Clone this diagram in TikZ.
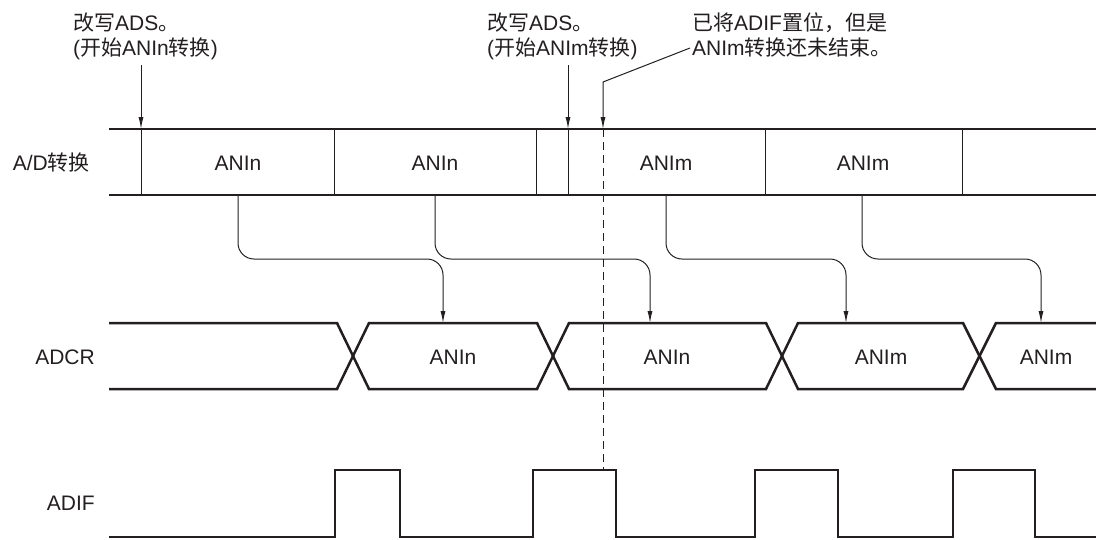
\documentclass[tikz,border=0pt]{standalone}
\usepackage{fontspec}
\setmainfont{Liberation Sans}
\newfontfamily\cjk{Noto Sans CJK SC}
\newcommand\zh[1]{{\cjk #1}}
\usetikzlibrary{arrows.meta}
\definecolor{ink}{HTML}{231F20}
\begin{document}
\begin{tikzpicture}[x=1pt,y=-1pt,
  font=\fontsize{21}{25}\selectfont,
  sig/.style={line width=2.5pt, draw=ink, line join=miter},
  thinln/.style={line width=1pt, draw=ink},
  arr/.style={line width=1pt, draw=ink, -{Latex[length=12pt,width=5pt]}},
  lbl/.style={inner sep=0pt, text=ink},
]
\useasboundingbox (0,0) rectangle (1096,539);

% top annotations
\node[lbl, anchor=north west, align=left] (n1) at (73,13) {\zh{改写}ADS\zh{。}\\(\zh{开始}ANIn\zh{转换})};
\node[lbl, anchor=north west, align=left] (n2) at (487,13) {\zh{改写}ADS\zh{。}\\(\zh{开始}ANIm\zh{转换})};
\node[lbl, anchor=north west, align=left] (n3) at (692,13) {\zh{已将}ADIF\zh{置位，但是}\\ANIm\zh{转换还未结束。}};

% row labels
\node[lbl, anchor=east] (rad) at (90,163) {A/D\zh{转换}};
\node[lbl, anchor=east] (radcr) at (95,357) {ADCR};
\node[lbl, anchor=east] (radif) at (95,503) {ADIF};

% A/D conversion row
\foreach \x in {141,334,536,568,765,962} \draw[thinln] (\x,129) -- (\x,195);
\draw[sig] (109,129) -- (1096,129);
\draw[sig] (109,195) -- (1096,195);
\node[lbl] (c1) at (238,163) {ANIn};
\node[lbl] (c2) at (435,163) {ANIn};
\node[lbl] (c3) at (666,163) {ANIm};
\node[lbl] (c4) at (863,163) {ANIm};

% annotation arrows
\coordinate (a1s) at (141,65); \coordinate (a1e) at (141,129);
\coordinate (a2s) at (568,65); \coordinate (a2e) at (568,129);
\draw[arr] (a1s) -- (a1e);
\draw[arr] (a2s) -- (a2e);
\coordinate (ls) at (690,48); \coordinate (lk) at (603,82); \coordinate (le) at (603,129);
\draw[arr] (ls) -- (lk) -- (le);
\coordinate (de) at (603,470);
\draw[thinln, dash pattern=on 8pt off 5pt] (le) -- (de);

% ADCR bus
\draw[sig] (109,323) -- (337,323) -- (369,389) -- (537,389) -- (569,323) -- (766,323) -- (798,389) -- (963,389) -- (996,323) -- (1096,323);
\draw[sig] (109,389) -- (337,389) -- (369,323) -- (537,323) -- (569,389) -- (766,389) -- (798,323) -- (963,323) -- (996,389) -- (1096,389);
\node[lbl] (d1) at (453,357) {ANIn};
\node[lbl] (d2) at (667,357) {ANIn};
\node[lbl] (d3) at (881,357) {ANIm};
\node[lbl] (d4) at (1046,357) {ANIm};

% transfer arrows
\foreach \s/\t [count=\i] in {238/443, 435/650, 666/846, 862/1041} {
  \coordinate (s\i) at (\s,195);
  \coordinate (t\i) at (\t,323);
  \draw[arr, rounded corners=16pt] (s\i) -- ++(0,64) -| (t\i);
}

% ADIF
\draw[sig] (109,537) -- (335,537) -- (335,470) -- (400,470) -- (400,537)
  -- (533,537) -- (533,470) -- (616,470) -- (616,537)
  -- (755,537) -- (755,470) -- (838,470) -- (838,537)
  -- (953,537) -- (953,470) -- (1035,470) -- (1035,537) -- (1096,537);
\end{tikzpicture}
\end{document}
